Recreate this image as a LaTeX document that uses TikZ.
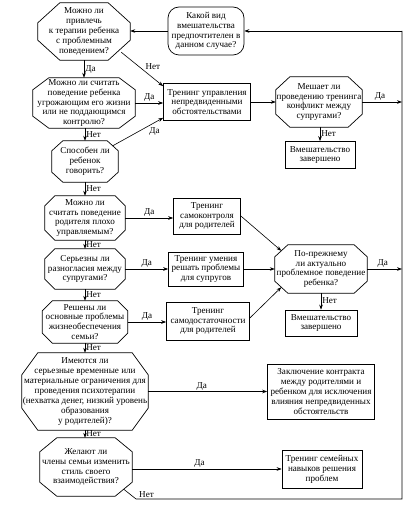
\documentclass[tikz,border=0pt]{standalone}
\usepackage{fontspec}
\setmainfont{Liberation Serif}
\usetikzlibrary{arrows.meta,calc}
\newcommand\drawoct[3]{\draw[octline] ([xshift=#2pt]#1.north west) -- ([xshift=-#2pt]#1.north east) -- ([yshift=-#3pt]#1.north east) -- ([yshift=#3pt]#1.south east) -- ([xshift=-#2pt]#1.south east) -- ([xshift=#2pt]#1.south west) -- ([yshift=#3pt]#1.south west) -- ([yshift=-#3pt]#1.north west) -- cycle;}
\begin{document}
\begin{tikzpicture}[x=1pt,y=-1pt,
  every node/.style={font=\fontsize{9.1}{9.9}\selectfont},
  oct/.style={align=center, inner sep=0pt},
  octline/.style={line width=0.7pt},
  box/.style={draw, line width=0.7pt, align=center, inner sep=1pt},
  rbox/.style={box, rounded corners=11pt},
  arr/.style={-{Stealth[length=5pt,width=3.6pt]}, line width=0.6pt},
  ln/.style={line width=0.6pt},
  lab/.style={inner sep=1pt}]
\useasboundingbox (0,0) rectangle (410,510);

% decision octagons
\node[oct, minimum width=92pt, minimum height=57pt] (q1) at (84,31.5) {Можно ли\\привлечь\\к терапии ребенка\\с проблемным\\поведением?};
\node[oct, minimum width=102pt, minimum height=50pt] (q2) at (84,103) {Можно ли считать\\поведение ребенка\\угрожающим его жизни\\или не поддающимся\\контролю?};
\node[oct, minimum width=66pt, minimum height=41pt] (q3) at (85,161.5) {Способен ли\\ребенок\\говорить?};
\node[oct, minimum width=80pt, minimum height=44pt] (q4) at (85,218) {Можно ли\\считать поведение\\родителя плохо\\управляемым?};
\node[oct, minimum width=80pt, minimum height=40pt] (q5) at (85,269) {Серьезны ли\\разногласия между\\супругами?};
\node[oct, minimum width=85pt, minimum height=42pt] (q6) at (85,322) {Решены ли\\основные проблемы\\жизнеобеспечения\\семьи?};
\node[oct, minimum width=126pt, minimum height=77pt] (q7) at (85,391.5) {Имеются ли\\серьезные временные или\\материальные ограничения для\\проведения психотерапии\\(нехватка денег, низкий уровень\\образования\\у родителей)?};
\node[oct, minimum width=92pt, minimum height=58pt] (q8) at (86,467) {Желают ли\\члены семьи изменить\\стиль своего\\взаимодействия?};
\node[oct, minimum width=86pt, minimum height=50pt] (q9) at (319,102) {Мешает ли\\проведению тренинга\\конфликт между\\супругами?};
\node[oct, minimum width=92pt, minimum height=48pt] (q10) at (321,269) {По-прежнему\\ли актуально\\проблемное поведение\\ребенка?};

\drawoct{q1}{22}{20}
\drawoct{q2}{16}{12}
\drawoct{q3}{11}{10}
\drawoct{q4}{10}{10}
\drawoct{q5}{10}{10}
\drawoct{q6}{10}{10}
\drawoct{q7}{16}{22}
\drawoct{q8}{17}{14}
\drawoct{q9}{14}{13}
\drawoct{q10}{13}{12}

% boxes
\node[rbox, minimum width=76pt, minimum height=48pt] (r0) at (206,31) {Какой вид\\вмешательства\\предпочтителен в\\данном случае?};
\node[box, minimum width=87pt, minimum height=37pt] (b1) at (207,102) {Тренинг управления\\непредвиденными\\обстоятельствами};
\node[box, minimum width=70pt, minimum height=27pt] (e1) at (320,155) {Вмешательство\\завершено};
\node[box, minimum width=67pt, minimum height=36pt] (b2) at (207,216) {Тренинг\\самоконтроля\\для родителей};
\node[box, minimum width=75pt, minimum height=34pt] (b3) at (206,269) {Тренинг умения\\решать проблемы\\для супругов};
\node[box, minimum width=83pt, minimum height=38pt] (b4) at (208,321) {Тренинг\\самодостаточности\\для родителей};
\node[box, minimum width=72pt, minimum height=26pt] (e2) at (321,323) {Вмешательство\\завершено};
\node[box, minimum width=107pt, minimum height=55pt] (b5) at (321,391.5) {Заключение контракта\\между родителями и\\ребенком для исключения\\влияния непредвиденных\\обстоятельств};
\node[box, minimum width=80pt, minimum height=38pt] (b6) at (322,469) {Тренинг семейных\\навыков решения\\проблем};

% helper coordinates of the return line
\coordinate (rt) at (402,31);
\coordinate (rb) at (402,499);
\coordinate (q8k) at (136,499);

% left column
\draw[arr] (r0.west) -- (r0.west -| q1.east);
\draw[arr] (q1.south -| q2.north) -- node[lab, right, pos=0.55] (l1) {Да} (q2.north);
\draw[arr] (q2.south -| q3.north) -- node[lab, right, pos=0.5] (l2) {Нет} (q3.north);
\draw[arr] (q3.south) -- node[lab, right, pos=0.5] (l3) {Нет} (q4.north);
\draw[arr] (q4.south) -- node[lab, right, pos=0.5] (l4) {Нет} (q5.north);
\draw[arr] (q5.south) -- node[lab, right, pos=0.5] (l5) {Нет} (q6.north);
\draw[arr] (q6.south) -- node[lab, right, pos=0.5] (l6) {Нет} (q7.north);
\draw[arr] (q7.south) -- node[lab, right, pos=0.5] (l7) {Нет} (q8.north -| q7.south);

% to B1
\draw[arr] ([xshift=-9pt,yshift=8pt]q1.south east) -- node[lab, above right, pos=0.55] (l8) {Нет} ([yshift=-3pt]b1.north west);
\draw[arr] (q2.east) -- node[lab, above, pos=0.5] (l9) {Да} (q2.east -| b1.west);
\draw[arr] ([xshift=-5.5pt,yshift=-5pt]q3.north east) -- node[lab, below right, pos=0.7] (l10) {Да} ([yshift=3pt]b1.south west);
\draw[arr] (b1.east) -- (q9.west);
\draw[arr] (q9.south -| e1.north) -- node[lab, right, pos=0.45] (l11) {Нет} (e1.north);
\draw[arr] (q9.east) -- node[lab, above, pos=0.45] (l12) {Да} (q9.east -| rt);

% trainings
\draw[arr] (q4.east) -- node[lab, above, pos=0.5] (l13) {Да} (q4.east -| b2.west);
\draw[arr] (q5.east) -- node[lab, above, pos=0.5] (l14) {Да} (b3.west);
\draw[arr] (q6.east) -- node[lab, above, pos=0.5] (l15) {Да} (q6.east -| b4.west);
\draw[arr] (b2.east) -- ([xshift=6.5pt,yshift=-6pt]q10.north west);
\draw[arr] (b3.east) -- (q10.west);
\draw[arr] ([yshift=3pt]b4.east) -- ([xshift=6.5pt,yshift=6pt]q10.south west);
\draw[arr] (q10.south -| e2.north) -- node[lab, right, pos=0.45] (l16) {Нет} (e2.north);
\draw[arr] (q10.east) -- node[lab, above, pos=0.45] (l17) {Да} (q10.east -| rt);

% lower
\draw[arr] (q7.east) -- node[lab, above, pos=0.45] (l18) {Да} (q7.east -| b5.west);
\draw[arr] (q8.east |- b6.west) -- node[lab, above, pos=0.45] (l19) {Да} (b6.west);
\draw[ln] ([xshift=-8.5pt,yshift=7pt]q8.south east) -- (q8k) -- (rb) -- (rt);
\node[lab, above right] (l20) at (138,499) {Нет};
\draw[arr] (rt) -- (r0.east);
\end{tikzpicture}
\end{document}
